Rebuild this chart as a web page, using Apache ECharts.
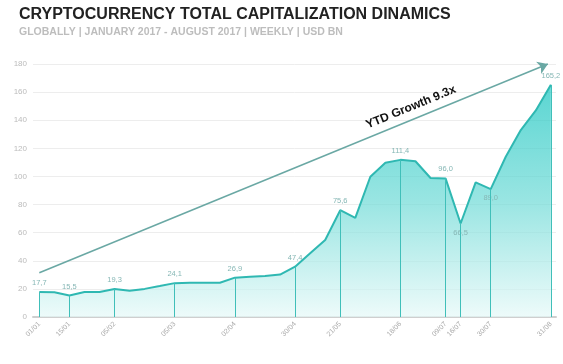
<!DOCTYPE html>
<html><head><meta charset="utf-8">
<script src="https://cdn.jsdelivr.net/npm/echarts@6/dist/echarts.min.js"></script>
<style>html,body{margin:0;padding:0;background:#fff}#c{width:563px;height:364px}</style>
</head><body><div id="c"></div>
<script>
const titleText = 'CRYPTOCURRENCY TOTAL CAPITALIZATION DINAMICS';
const subtitleText = 'GLOBALLY | JANUARY 2017 - AUGUST 2017 | WEEKLY | USD BN';
// weekly values, index 0 = 01/01 ... index 34 = 31/08
const capitalization = [17.7, 17.6, 15.3, 17.8, 17.8, 19.9, 18.6, 20.0, 22.0, 24.1,
  24.3, 24.3, 24.4, 28.0, 28.6, 29.2, 30.2, 35.8, 45.3, 54.8,
  76.0, 70.5, 99.8, 109.8, 111.8, 110.8, 98.9, 98.6, 66.5, 95.8,
  91.0, 114.0, 133.0, 147.0, 165.2];
const labelIdx = [0, 2, 5, 9, 13, 17, 20, 24, 27, 28, 30, 34];
const dateLabels = ['01/01','15/01','05/02','05/03','02/04','30/04','21/05','18/06','09/07','16/07','30/07','31/08'];
const pointLabels = ['17,7','15,5','19,3','24,1','26,9','47,4','75,6','111,4','96,0','66,5','89,0','165,2'];
const pointLabelPos = ['top','top','top','top','top','top','top','top','top','bottom','bottom','top'];
const growthLine = [[0, 31.5], [33.8, 180]];
const growthText = 'YTD Growth 9.3x';
const yTicks = [0, 20, 40, 60, 80, 100, 120, 140, 160, 180];

const seriesData = capitalization.map((v, i) => {
  const k = labelIdx.indexOf(i);
  if (k < 0) return [i, v];
  return { value: [i, v], label: { show: true, formatter: pointLabels[k], position: pointLabelPos[k] } };
});
const dropLines = labelIdx.map(i => [{ coord: [i, 0] }, { coord: [i, capitalization[i]] }]);

const chart = echarts.init(document.getElementById('c'), null, { renderer: 'canvas' });
chart.setOption({
  animation: false,
  backgroundColor: '#fff',
  title: {
    text: titleText, subtext: subtitleText, left: 14, top: 2, itemGap: 4,
    textStyle: { fontFamily: 'Liberation Sans', fontSize: 16, fontWeight: 'bold', color: '#222' },
    subtextStyle: { fontFamily: 'Liberation Sans', fontSize: 10.5, fontWeight: 'bold', color: '#bdbdbd' }
  },
  grid: { left: 33, right: 7, top: 64, bottom: 47, containLabel: false },
  xAxis: {
    type: 'value', min: -0.42, max: 34.34,
    splitLine: { show: false },
    axisTick: { show: false },
    axisLine: { show: true, lineStyle: { color: '#cfcfcf', width: 2 } },
    axisLabel: {
      customValues: labelIdx, rotate: 45, fontSize: 7, color: '#aaa', margin: 6,
      fontFamily: 'Liberation Sans',
      formatter: v => { const k = labelIdx.indexOf(Math.round(v)); return k < 0 ? '' : dateLabels[k]; }
    }
  },
  yAxis: {
    type: 'value', min: yTicks[0], max: yTicks[yTicks.length - 1], interval: 20,
    axisLine: { show: false }, axisTick: { show: false },
    splitLine: { lineStyle: { color: '#ededed', width: 1 } },
    axisLabel: { fontSize: 8, color: '#bbb', margin: 6, fontFamily: 'Liberation Sans' }
  },
  series: [
    {
      type: 'line', data: seriesData, symbol: 'circle', symbolSize: 0, showSymbol: true,
      lineStyle: { color: '#2fb8b2', width: 2 },
      itemStyle: { color: '#2fb8b2' },
      label: { show: false, fontSize: 7.5, color: '#86b7b5', distance: 5, fontFamily: 'Liberation Sans' },
      areaStyle: {
        color: new echarts.graphic.LinearGradient(0, 0, 0, 1, [
          { offset: 0, color: '#14c4bf' },
          { offset: 0.5, color: '#6ddad6' },
          { offset: 1, color: '#e6f9f8' }
        ])
      },
      markLine: {
        silent: true, symbol: ['none', 'none'],
        lineStyle: { color: '#40bfb9', width: 1, type: 'solid' },
        label: { show: false },
        data: dropLines
      },
      z: 2
    },
    {
      type: 'line', data: growthLine, symbol: 'none',
      lineStyle: { opacity: 0 },
      markLine: {
        silent: true, symbol: ['none', 'arrow'], symbolSize: 10,
        lineStyle: { color: '#6aa8a4', width: 1.5, type: 'solid' },
        label: {
          show: true, formatter: growthText, position: 'insideEndTop', distance: [95, 6],
          fontFamily: 'Liberation Sans', fontSize: 12, fontWeight: 'bold', color: '#111'
        },
        data: [[{ coord: growthLine[0] }, { coord: growthLine[1] }]]
      },
      z: 3
    }
  ]
});
</script></body></html>
